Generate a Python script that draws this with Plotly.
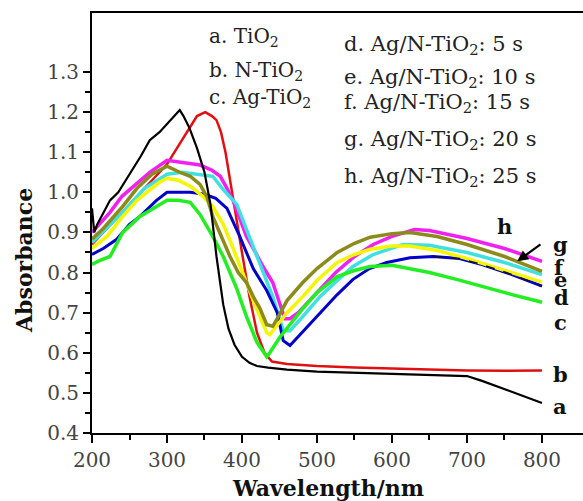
import plotly.graph_objects as go

# ---------------- data ----------------
wl_a = [200, 203, 207, 215, 224, 235, 245, 255, 265, 277, 290, 300, 310, 317, 322, 330, 340, 350, 358,
        366, 375, 382, 390, 400, 410, 420, 435, 460, 500, 550, 600, 650, 700, 720, 750, 780, 800]
abs_a = [0.96, 0.90, 0.92, 0.95, 0.98, 1.00, 1.03, 1.06, 1.09, 1.13, 1.15, 1.17, 1.19, 1.205, 1.19, 1.16,
         1.11, 1.05, 0.97, 0.84, 0.72, 0.66, 0.62, 0.59, 0.575, 0.567, 0.563, 0.558, 0.553, 0.55, 0.547,
         0.545, 0.542, 0.53, 0.51, 0.49, 0.475]

wl_b = [200, 230, 260, 285, 300, 310, 320, 331, 340, 351, 360, 366, 372, 378, 384, 390, 400, 410, 420,
        430, 440, 460, 500, 550, 600, 650, 700, 750, 800]
abs_b = [0.87, 0.93, 0.99, 1.04, 1.07, 1.10, 1.13, 1.16, 1.19, 1.20, 1.19, 1.18, 1.15, 1.10, 1.03, 0.96,
         0.85, 0.74, 0.65, 0.60, 0.578, 0.572, 0.567, 0.563, 0.56, 0.558, 0.556, 0.555, 0.556]

wl_c = [200, 210, 224, 241, 264, 286, 300, 315, 331, 344, 361, 375, 393, 406, 420, 433, 437, 451, 468,
        481, 500, 527, 550, 571, 600, 624, 650, 686, 720, 760, 800]
abs_c = [0.82, 0.83, 0.84, 0.90, 0.94, 0.965, 0.98, 0.98, 0.975, 0.945, 0.89, 0.84, 0.76, 0.69, 0.626,
         0.59, 0.60, 0.64, 0.68, 0.71, 0.75, 0.79, 0.805, 0.815, 0.818, 0.81, 0.80, 0.783, 0.765, 0.745, 0.726]

wl_d = [200, 215, 233, 250, 264, 286, 300, 315, 331, 350, 365, 380, 397, 415, 433, 447, 455, 464, 480,
        504, 527, 548, 570, 593, 624, 655, 690, 720, 760, 800]
abs_d = [0.845, 0.86, 0.883, 0.92, 0.94, 0.98, 1.0, 1.0, 1.0, 0.995, 0.985, 0.96, 0.89, 0.81, 0.755,
         0.70, 0.63, 0.618, 0.65, 0.70, 0.745, 0.783, 0.81, 0.825, 0.837, 0.84, 0.835, 0.82, 0.795, 0.766]

wl_e = [200, 220, 241, 260, 273, 290, 300, 315, 331, 348, 361, 375, 384, 395, 406, 415, 424, 433, 437,
        447, 460, 481, 500, 527, 550, 571, 600, 624, 660, 700, 750, 800]
abs_e = [0.86, 0.89, 0.94, 0.98, 1.0, 1.025, 1.035, 1.03, 1.015, 0.99, 0.965, 0.92, 0.88, 0.83, 0.775,
         0.73, 0.69, 0.65, 0.645, 0.67, 0.70, 0.74, 0.78, 0.825, 0.845, 0.858, 0.866, 0.866, 0.855, 0.835,
         0.805, 0.776]

wl_f = [200, 241, 270, 300, 320, 344, 361, 375, 384, 393, 406, 428, 441, 455, 464, 481, 504, 527, 548,
        575, 615, 650, 700, 750, 800]
abs_f = [0.875, 0.95, 1.01, 1.045, 1.05, 1.045, 1.04, 1.007, 0.99, 0.97, 0.907, 0.80, 0.74, 0.655, 0.655,
         0.69, 0.74, 0.78, 0.815, 0.845, 0.87, 0.868, 0.85, 0.825, 0.795]

wl_g = [200, 215, 241, 260, 280, 300, 317, 331, 344, 353, 361, 372, 384, 395, 406, 415, 424, 433, 441,
        447, 460, 481, 500, 527, 550, 571, 600, 624, 660, 700, 750, 800]
abs_g = [0.883, 0.91, 0.965, 1.01, 1.045, 1.065, 1.05, 1.04, 1.02, 0.99, 0.94, 0.89, 0.84, 0.80, 0.775,
         0.74, 0.71, 0.67, 0.666, 0.685, 0.73, 0.775, 0.81, 0.85, 0.873, 0.888, 0.897, 0.90, 0.89, 0.87,
         0.84, 0.803]

wl_h = [200, 210, 224, 240, 255, 277, 300, 317, 344, 360, 371, 380, 388, 398, 406, 418, 428, 441, 451,
        457, 464, 475, 490, 504, 525, 550, 575, 600, 630, 650, 700, 750, 800]
abs_h = [0.90, 0.92, 0.95, 0.99, 1.015, 1.05, 1.08, 1.075, 1.068, 1.055, 1.04, 1.01, 0.98, 0.93, 0.89,
         0.85, 0.815, 0.775, 0.72, 0.685, 0.685, 0.70, 0.73, 0.758, 0.80, 0.84, 0.87, 0.89, 0.907, 0.905,
         0.885, 0.86, 0.828]

legend_left = ["a. TiO<sub>2</sub>", "b. N-TiO<sub>2</sub>", "c. Ag-TiO<sub>2</sub>"]
legend_right = ["d. Ag/N-TiO<sub>2</sub>: 5 s", "e. Ag/N-TiO<sub>2</sub>: 10 s",
                "f. Ag/N-TiO<sub>2</sub>: 15 s", "g. Ag/N-TiO<sub>2</sub>: 20 s",
                "h. Ag/N-TiO<sub>2</sub>: 25 s"]
end_labels = ["a", "b", "c", "d", "e", "f", "g", "h"]
end_label_x = [812, 812, 813, 813, 813, 813, 812, 737]
end_label_y = [0.467, 0.547, 0.676, 0.738, 0.783, 0.813, 0.870, 0.915]

x_ticks = [200, 300, 400, 500, 600, 700, 800]
y_ticks = [0.4, 0.5, 0.6, 0.7, 0.8, 0.9, 1.0, 1.1, 1.2, 1.3]
x_minor = [250, 350, 450, 550, 650, 750]
y_minor = [0.45, 0.55, 0.65, 0.75, 0.85, 0.95, 1.05, 1.15, 1.25]

# ---------------- figure ----------------
fig = go.Figure()

series = [
    (wl_b, abs_b, "#E01010", 2.5, "b"),
    (wl_h, abs_h, "#F020F0", 3.5, "h"),
    (wl_f, abs_f, "#40E0E0", 3.5, "f"),
    (wl_d, abs_d, "#0000C8", 3.0, "d"),
    (wl_e, abs_e, "#F5F500", 3.5, "e"),
    (wl_c, abs_c, "#22EE22", 3.5, "c"),
    (wl_g, abs_g, "#8B8B1A", 3.5, "g"),
    (wl_a, abs_a, "#000000", 2.2, "a"),
]
for xs, ys, col, w, nm in series:
    fig.add_trace(go.Scatter(x=xs, y=ys, mode="lines", name=nm,
                             line=dict(color=col, width=w), showlegend=False))

# dashed dark overlay on the blue curve at long wavelengths
dash_x = [x for x in wl_d if x >= 655]
dash_y = [y for x, y in zip(wl_d, abs_d) if x >= 655]
fig.add_trace(go.Scatter(x=dash_x, y=dash_y, mode="lines", showlegend=False,
                         line=dict(color="#111133", width=1.6, dash="dash")))

serif = "DejaVu Serif"
ann = []
left_y = [1.386, 1.303, 1.236]
for t, yy in zip(legend_left, left_y):
    ann.append(dict(x=354, y=yy, xref="x", yref="y", text=t, showarrow=False,
                    xanchor="left", yanchor="middle", font=dict(family=serif, size=20, color="#222")))
right_y = [1.367, 1.285, 1.222, 1.13, 1.038]
for t, yy in zip(legend_right, right_y):
    ann.append(dict(x=533, y=yy, xref="x", yref="y", text=t, showarrow=False,
                    xanchor="left", yanchor="middle", font=dict(family=serif, size=21, color="#222")))
for t, xx, yy in zip(end_labels, end_label_x, end_label_y):
    ann.append(dict(x=xx, y=yy, xref="x", yref="y", text="<b>" + t + "</b>", showarrow=False,
                    xanchor="left", yanchor="middle", font=dict(family=serif, size=21, color="#111")))
# arrow from label g to curve g
ann.append(dict(x=767, y=0.828, ax=800, ay=0.873, xref="x", yref="y", axref="x", ayref="y",
                text="", showarrow=True, arrowhead=2, arrowsize=1, arrowwidth=2.2, arrowcolor="#000"))
# axis titles
ann.append(dict(x=0.481, y=-0.132, xref="paper", yref="paper", text="<b>Wavelength/nm</b>",
                showarrow=False, xanchor="center", yanchor="middle",
                font=dict(family=serif, size=22, color="#111")))
ann.append(dict(x=-0.1385, y=0.412, xref="paper", yref="paper", text="<b>Absorbance</b>",
                showarrow=False, xanchor="center", yanchor="middle", textangle=-90,
                font=dict(family=serif, size=22, color="#111")))

fig.update_layout(
    width=583, height=501,
    margin=dict(l=92, r=0, t=13, b=68),
    paper_bgcolor="white", plot_bgcolor="white",
    annotations=ann,
)
fig.update_xaxes(range=[200, 854.7], showgrid=False, zeroline=False,
                 showline=True, linecolor="#000", linewidth=2, mirror=True,
                 ticks="outside", ticklen=8, tickwidth=2, tickcolor="#000",
                 tickvals=x_ticks, ticktext=[str(v) for v in x_ticks],
                 tickfont=dict(family=serif, size=20, color="#444"),
                 minor=dict(tickvals=x_minor, ticks="outside", ticklen=5, tickwidth=2, tickcolor="#000"))
fig.update_yaxes(range=[0.4, 1.447], showgrid=False, zeroline=False,
                 showline=True, linecolor="#000", linewidth=2, mirror=False,
                 ticks="outside", ticklen=7, tickwidth=2, tickcolor="#000",
                 tickvals=y_ticks, ticktext=["%.1f" % v for v in y_ticks],
                 tickfont=dict(family=serif, size=20, color="#444"),
                 minor=dict(tickvals=y_minor, ticks="outside", ticklen=5, tickwidth=2, tickcolor="#000"))

fig.write_html("out.html")
